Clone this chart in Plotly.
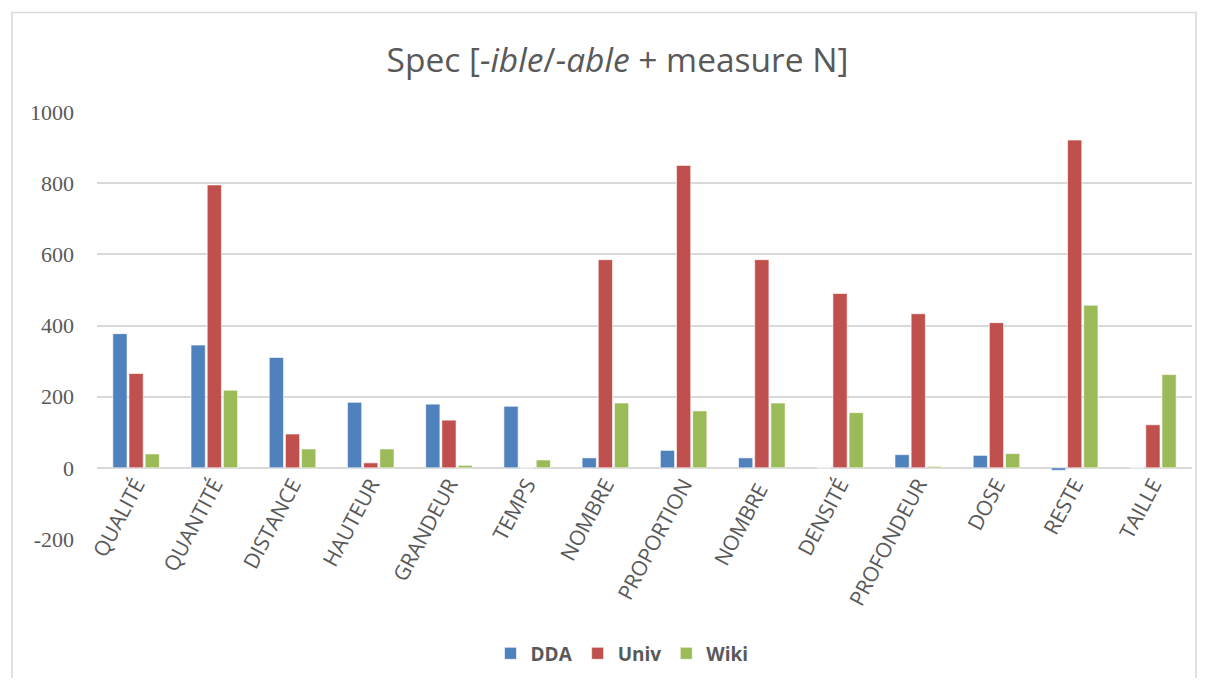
import plotly.graph_objects as go

categories = ["QUALITÉ", "QUANTITÉ", "DISTANCE", "HAUTEUR", "GRANDEUR", "TEMPS", "NOMBRE",
              "PROPORTION", "NOMBRE ", "DENSITÉ", "PROFONDEUR", "DOSE", "RESTE", "TAILLE"]
dda = [377, 345, 310, 184, 179, 173, 28, 49, 28, 0, 37, 35, -7, 0]
univ = [265, 795, 95, 14, 134, 0, 585, 850, 585, 490, 433, 408, 921, 121]
wiki = [39, 218, 53, 53, 7, 22, 182, 160, 182, 155, 4, 40, 457, 262]
y_ticks = [-200, 0, 200, 400, 600, 800, 1000]
y_tick_text = ["-200", "0", "200", "400", "600", "800", "1000"]

series = [("DDA", dda, "#4F81BD"), ("Univ", univ, "#C0504D"), ("Wiki", wiki, "#9BBB59")]

fig = go.Figure()
for name, vals, col in series:
    fig.add_trace(go.Bar(x=categories, y=vals, name=name,
                         marker=dict(color=col, line=dict(color="rgba(255,255,255,0.6)", width=1))))

# page is offset by 8px body margin
OFF = 8
W, H = 1190, 670
L = 97 - OFF
T = 112 - OFF
R = W - (1192 - OFF)
B = H - (541 - OFF)
pw = W - L - R
ph = H - T - B

def px_x(p):
    return (p - OFF - L) / pw

def px_y(p):
    return (H - B - (p - OFF)) / ph

fig.update_layout(
    width=W, height=H,
    margin=dict(l=L, r=R, t=T, b=B),
    paper_bgcolor="white", plot_bgcolor="white",
    barmode="group", bargap=0.38, bargroupgap=0.12,
    title=dict(text="Spec [<i>-ible</i>/<i>-able</i> + measure N]",
               x=(617.5 - OFF) / W, xanchor="center",
               y=1 - (60 - OFF) / H, yanchor="middle",
               font=dict(family="Open Sans", size=33.5, color="#595959")),
    showlegend=True,
    legend=dict(orientation="h", x=px_x(622), xanchor="center", y=px_y(656), yanchor="middle",
                font=dict(family="Open Sans", size=19, color="#595959", weight="bold"),
                traceorder="normal", itemwidth=30),
    yaxis=dict(range=[-200, 1000], tickvals=y_ticks, ticktext=y_tick_text,
               showgrid=True, gridcolor="#D9D9D9", gridwidth=1.5,
               zeroline=True, zerolinecolor="#D9D9D9", zerolinewidth=2,
               showline=False, ticks="", ticklabelstandoff=22,
               tickfont=dict(family="Liberation Serif", size=22, color="#595959")),
    xaxis=dict(tickangle=-62, showline=False, ticks="", showgrid=False,
               anchor="free", position=px_y(469),
               ticklabelstandoff=0,
               tickfont=dict(family="Open Sans", size=21, color="#595959")),
    shapes=[dict(type="rect", xref="paper", yref="paper",
                 x0=px_x(12), x1=px_x(1196), y0=px_y(700), y1=px_y(12),
                 line=dict(color="#D9D9D9", width=1.5), fillcolor="rgba(0,0,0,0)", layer="below")],
)

fig.write_html("out.html")
